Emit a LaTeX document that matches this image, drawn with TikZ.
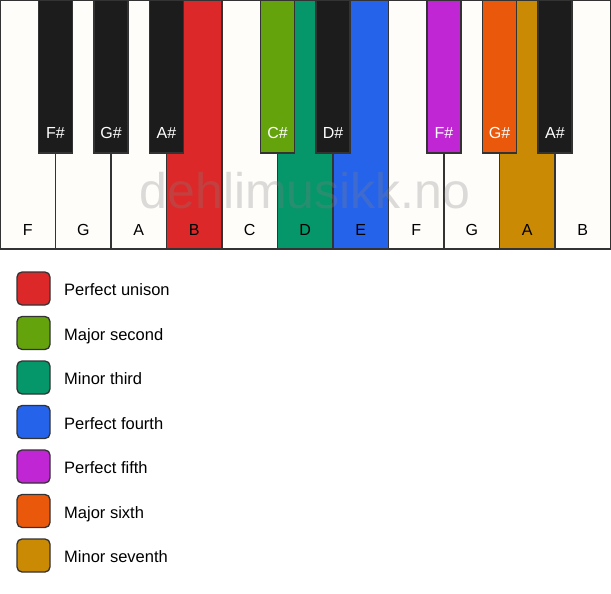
\documentclass[tikz,border=0pt]{standalone}
\usepackage{fontspec}
\setmainfont{Liberation Sans}
\definecolor{ivory}{HTML}{FFFDFA}
\definecolor{keyline}{HTML}{333333}
\definecolor{ebony}{HTML}{1C1C1C}
\definecolor{cUnison}{HTML}{DC2828}
\definecolor{cSecond}{HTML}{65A30D}
\definecolor{cThird}{HTML}{059669}
\definecolor{cFourth}{HTML}{2563EB}
\definecolor{cFifth}{HTML}{C026D3}
\definecolor{cSixth}{HTML}{EA580C}
\definecolor{cSeventh}{HTML}{CA8A04}
\begin{document}
\begin{tikzpicture}[x=1pt,y=-1pt,
  whitekey/.style={draw=keyline, line width=1.3pt, fill=ivory, minimum width=55.5pt, minimum height=249pt, inner sep=0pt, outer sep=0pt},
  blackkey/.style={draw=keyline, line width=1.3pt, fill=ebony, minimum width=34pt, minimum height=153pt, inner sep=0pt, outer sep=0pt},
  wlabel/.style={anchor=base, text=black, font=\fontsize{16}{19}\selectfont, inner sep=0pt},
  blabel/.style={anchor=base, text=white, font=\fontsize{16}{19}\selectfont, inner sep=0pt},
  legendbox/.style={draw=keyline, line width=1.3pt, rounded corners=5pt, minimum size=33pt, inner sep=0pt},
  legendtext/.style={anchor=base west, text=black, font=\fontsize{16.5}{20}\selectfont, inner sep=0pt},
  watermark/.style={anchor=base, text=gray, opacity=0.28, font=\fontsize{50}{60}\selectfont, inner sep=0pt}
]
\fill[white] (0,0) rectangle (611,594);
\useasboundingbox (0,0) rectangle (611,594);
% white keys
\foreach \i/\n/\c in {0/F/ivory,1/G/ivory,2/A/ivory,3/B/cUnison,4/C/ivory,5/D/cThird,6/E/cFourth,7/F/ivory,8/G/ivory,9/A/cSeventh,10/B/ivory}{
  \node[whitekey, fill=\c] (w\i) at ({(\i+0.5)*55.5},124.5) {};
  \node[wlabel] (lw\i) at ({(\i+0.5)*55.5},235.7) {\n};
}
% black keys
\foreach \k/\n/\c in {1/F\#/ebony,2/G\#/ebony,3/A\#/ebony,5/C\#/cSecond,6/D\#/ebony,8/F\#/cFifth,9/G\#/cSixth,10/A\#/ebony}{
  \node[blackkey, fill=\c] (b\k) at ({\k*55.5},76.5) {};
  \node[blabel] (lb\k) at ({\k*55.5},139) {\n};
}
% watermark
\node[watermark] (wm) at (305,208) {dehlimusikk.no};
% legend
\foreach \j/\c/\t in {0/cUnison/Perfect unison,1/cSecond/Major second,2/cThird/Minor third,3/cFourth/Perfect fourth,4/cFifth/Perfect fifth,5/cSixth/Major sixth,6/cSeventh/Minor seventh}{
  \node[legendbox, fill=\c] (s\j) at (33.5,{288.5+44.5*\j}) {};
  \node[legendtext] (t\j) at (64,{295.7+44.5*\j}) {\t};
}
\end{tikzpicture}
\end{document}
